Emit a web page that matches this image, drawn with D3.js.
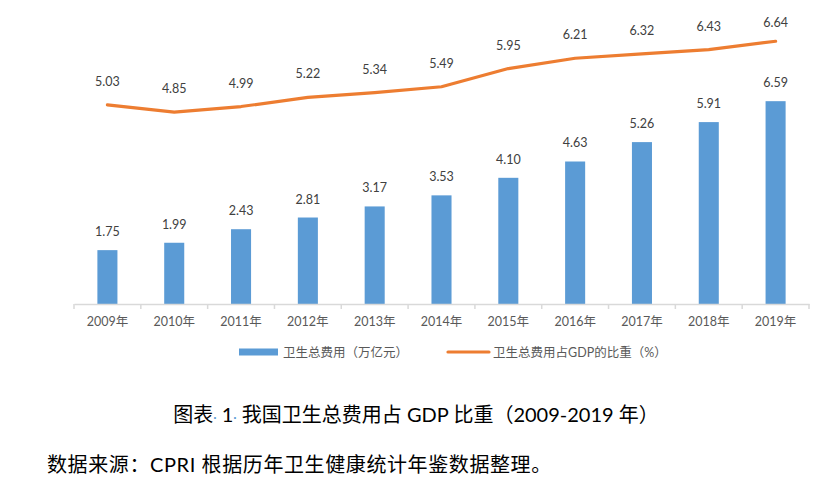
<!DOCTYPE html>
<html><head><meta charset="utf-8">
<script src="https://cdn.jsdelivr.net/npm/d3@7"></script>
<style>
html,body{margin:0;padding:0;background:#fff;}
svg{display:block;font-family:Lato,"Noto Sans CJK SC",sans-serif;}
</style></head>
<body>
<svg id="chart" width="836" height="500"></svg>
<script>
const years = ["2009年","2010年","2011年","2012年","2013年","2014年","2015年","2016年","2017年","2018年","2019年"];
const spending = [1.75,1.99,2.43,2.81,3.17,3.53,4.10,4.63,5.26,5.91,6.59];
const gdpShare = [5.03,4.85,4.99,5.22,5.34,5.49,5.95,6.21,6.32,6.43,6.64];
const legendLabels = ["卫生总费用（万亿元）","卫生总费用占GDP的比重（%）"];
const captionParts = ["图表","·"," 1","·"," 我国卫生总费用占 GDP 比重（2009-2019 年）"];
const sourceNote = "数据来源：CPRI 根据历年卫生健康统计年鉴数据整理。";

const svg = d3.select("#chart");
const plotTop = 27, plotBottom = 304, plotLeft = 74, plotRight = 809;

const x = d3.scaleBand().domain(years).range([plotLeft, plotRight]).padding(0);
const yBar = d3.scaleLinear().domain([0, 9]).range([plotBottom, plotTop]);
const yLine = d3.scaleLinear().domain([0, 7]).range([plotBottom, plotTop]);
const barW = x.bandwidth() * 0.3;

// bars
svg.append("g").selectAll("rect").data(spending).join("rect")
  .attr("x", (d,i) => x(years[i]) + x.bandwidth()/2 - barW/2)
  .attr("y", d => yBar(d))
  .attr("width", barW)
  .attr("height", d => plotBottom - yBar(d))
  .attr("fill", "#5b9bd5");

// bar labels
svg.append("g").selectAll("text").data(spending).join("text")
  .attr("x", (d,i) => x(years[i]) + x.bandwidth()/2)
  .attr("y", d => yBar(d) - 14)
  .attr("text-anchor", "middle")
  .attr("font-size", 12.5)
  .attr("fill", "#404040")
  .text(d => d.toFixed(2));

// x axis
const xAxis = d3.axisBottom(x).tickSize(0).tickPadding(13);
const ax = svg.append("g").attr("transform", `translate(0,${plotBottom})`).call(xAxis);
ax.select(".domain").attr("stroke", "#d9d9d9").attr("stroke-width", 1.5);
ax.selectAll(".tick text").attr("font-size", 12.5).attr("fill", "#595959")
  .attr("font-family", 'Lato,"Noto Sans CJK SC",sans-serif');
// boundary tick marks
const bounds = years.map(y => x(y)).concat([plotRight]);
ax.selectAll("line.bound").data(bounds).join("line").attr("class","bound")
  .attr("x1", d => d).attr("x2", d => d).attr("y1", 0).attr("y2", 5)
  .attr("stroke", "#d9d9d9").attr("stroke-width", 1.5);

// line
const line = d3.line()
  .x((d,i) => x(years[i]) + x.bandwidth()/2)
  .y(d => yLine(d));
svg.append("path").datum(gdpShare)
  .attr("d", line)
  .attr("fill", "none")
  .attr("stroke", "#ed7d31")
  .attr("stroke-width", 3.2)
  .attr("stroke-linejoin", "round")
  .attr("stroke-linecap", "round");

svg.append("g").selectAll("text").data(gdpShare).join("text")
  .attr("x", (d,i) => x(years[i]) + x.bandwidth()/2)
  .attr("y", d => Math.max(yLine(d) - 19, plotTop))
  .attr("text-anchor", "middle")
  .attr("font-size", 12.5)
  .attr("fill", "#404040")
  .text(d => d.toFixed(2));

// legend
const lg = svg.append("g").attr("font-size", 12.5).attr("fill", "#595959");
lg.append("rect").attr("x", 239).attr("y", 348.5).attr("width", 39).attr("height", 7).attr("fill", "#5b9bd5");
lg.append("text").attr("x", 283).attr("y", 356.5).text(legendLabels[0]);
lg.append("line").attr("x1", 448).attr("x2", 489).attr("y1", 352).attr("y2", 352)
  .attr("stroke", "#ed7d31").attr("stroke-width", 3.2).attr("stroke-linecap", "round");
lg.append("text").attr("x", 493).attr("y", 356.5).text(legendLabels[1]);

// caption
const cap = svg.append("text").attr("x", 416).attr("y", 422).attr("text-anchor", "middle")
  .attr("font-size", 20).attr("fill", "#000");
captionParts.forEach((p, i) => {
  cap.append("tspan").text(p).attr("fill", p === "·" ? "#5b9bd5" : "#000")
     .attr("font-size", p === "·" ? 13 : 20);
});

svg.append("text").attr("x", 47).attr("y", 472)
  .attr("font-size", 20).attr("letter-spacing", 0.6).attr("fill", "#000").text(sourceNote);
</script>
</body></html>
